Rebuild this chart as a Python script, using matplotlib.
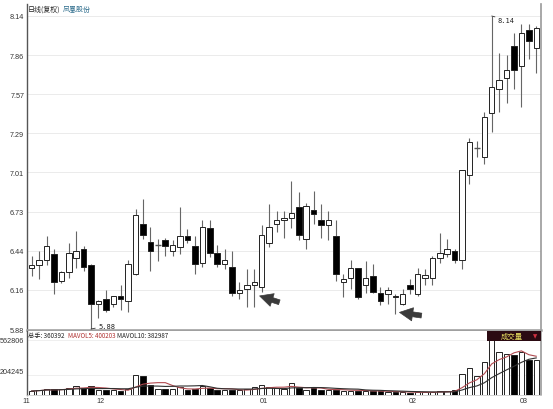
import matplotlib
matplotlib.use('Agg')
import matplotlib.pyplot as plt
import numpy as np
import pandas as pd
from matplotlib.patches import Rectangle

plt.rcParams['font.family'] = ['Liberation Sans', 'DejaVu Sans', 'Noto Sans CJK SC']

# ---------------- data ----------------
opens = [6.32, 6.34, 6.38, 6.42, 6.23, 6.29, 6.39, 6.46, 6.34, 6.06,
         6.10, 6.06, 6.12, 6.08, 6.28, 6.64, 6.51, 6.49, 6.52, 6.44,
         6.47, 6.55, 6.48, 6.36, 6.61, 6.43, 6.35, 6.33, 6.14, 6.17,
         6.20, 6.18, 6.50, 6.64, 6.67, 6.68, 6.76, 6.53, 6.74, 6.67,
         6.63, 6.55, 6.22, 6.25, 6.32, 6.20, 6.26, 6.14, 6.13, 6.12,
         6.06, 6.20, 6.13, 6.25, 6.25, 6.39, 6.42, 6.44, 6.38, 6.99,
         7.19, 7.12, 7.44, 7.61, 7.69, 7.92, 7.78, 8.04, 7.91]
closes = [6.34, 6.38, 6.48, 6.22, 6.29, 6.43, 6.44, 6.33, 6.06, 6.08,
          6.02, 6.12, 6.10, 6.35, 6.70, 6.56, 6.44, 6.49, 6.48, 6.49,
          6.55, 6.52, 6.35, 6.62, 6.43, 6.35, 6.38, 6.14, 6.16, 6.20,
          6.22, 6.56, 6.62, 6.67, 6.68, 6.72, 6.56, 6.77, 6.71, 6.63,
          6.67, 6.28, 6.24, 6.32, 6.11, 6.25, 6.15, 6.08, 6.16, 6.11,
          6.13, 6.17, 6.28, 6.27, 6.39, 6.43, 6.46, 6.38, 7.03, 7.23,
          7.19, 7.41, 7.63, 7.68, 7.75, 7.75, 8.02, 7.96, 8.05]
highs = [6.41, 6.44, 6.55, 6.46, 6.30, 6.50, 6.59, 6.48, 6.35, 6.09,
         6.16, 6.12, 6.20, 6.38, 6.75, 6.82, 6.62, 6.53, 6.54, 6.52,
         6.76, 6.60, 6.55, 6.67, 6.67, 6.49, 6.46, 6.44, 6.22, 6.31,
         6.31, 6.63, 6.78, 6.73, 6.73, 6.95, 6.87, 6.79, 6.88, 6.78,
         6.73, 6.67, 6.28, 6.38, 6.32, 6.37, 6.35, 6.18, 6.18, 6.13,
         6.17, 6.24, 6.32, 6.31, 6.41, 6.57, 6.53, 6.46, 7.03, 7.26,
         7.24, 7.45, 8.14, 7.87, 7.86, 8.02, 8.08, 8.08, 8.07]
lows = [6.26, 6.24, 6.34, 6.13, 6.21, 6.25, 6.32, 6.30, 5.88, 5.96,
        6.00, 6.04, 6.02, 6.00, 6.27, 6.53, 6.30, 6.37, 6.41, 6.41,
        6.42, 6.50, 6.28, 6.33, 6.40, 6.33, 6.31, 6.12, 6.10, 6.04,
        6.04, 6.15, 6.47, 6.58, 6.54, 6.61, 6.52, 6.46, 6.64, 6.54,
        6.52, 6.23, 6.11, 6.17, 6.10, 6.14, 6.14, 6.05, 6.06, 5.99,
        6.05, 6.13, 6.12, 6.20, 6.20, 6.36, 6.40, 6.36, 6.31, 6.93,
        7.12, 7.07, 7.30, 7.45, 7.51, 7.61, 7.48, 7.83, 7.73]
volumes = [41000, 49000, 65000, 59000, 59000, 76000, 93000, 76000, 93000, 49000,
           49000, 49000, 41000, 59000, 210000, 200000, 104000, 65000, 59000, 59000,
           83000, 49000, 59000, 93000, 76000, 49000, 49000, 49000, 49000, 59000,
           83000, 104000, 83000, 72000, 62000, 121000, 69000, 52000, 69000, 52000,
           52000, 55000, 45000, 45000, 45000, 41000, 38000, 38000, 31000, 31000,
           28000, 24000, 28000, 28000, 31000, 38000, 38000, 52000, 218000, 280000,
           200000, 345000, 562806, 440000, 420000, 410000, 445000, 366000, 360392]

price_ticks = [5.88, 6.1625, 6.445, 6.7275, 7.01, 7.2925, 7.575, 7.8575, 8.14]
price_labels = ['5.88', '6.16', '6.44', '6.73', '7.01', '7.29', '7.57', '7.86', '8.14']
vol_ticks = [204245, 562806]
vol_labels = ['204245', '562806']
month_labels = ['11', '12', '01', '02', '03']
month_start = [0, 10, 32, 52, 67]
title_a = '日线(复权)'
title_b = '凤凰股份'
vol_header = ['总手: 360392', 'MAVOL5: 400203', 'MAVOL10: 382987']
vol_name = '成交量'
high_label = '8.14'
low_label = '5.88'

# ---------------- layout ----------------
W, H = 553, 410
fig = plt.figure(figsize=(W / 100, H / 100), dpi=100)
fig.patch.set_facecolor('white')


def rect(l, t, r, b):
    return [l / W, 1 - b / H, (r - l) / W, (b - t) / H]


def fx(px):
    return px / W


def fy(py):
    return 1 - py / H


ax = fig.add_axes(rect(27, 5, 541, 331))
axv = fig.add_axes(rect(27, 332, 541, 396))

n = len(opens)
x = np.arange(n)
xlim = (-0.63, 68.64)
cjk = ['Noto Sans CJK SC', 'Liberation Sans', 'DejaVu Sans']
tick_fs = 5.2
txt_col = '#333333'

# ---------------- candles ----------------
bw = 0.74
for i in range(n):
    o, c, h, l = opens[i], closes[i], highs[i], lows[i]
    ax.vlines(i, l, h, color='#666666', lw=0.8, zorder=2)
    if abs(c - o) < 0.004:
        ax.hlines(o, i - bw / 2, i + bw / 2, color='#555555', lw=1.0, zorder=3)
    else:
        up = c > o
        ax.add_patch(Rectangle((i - bw / 2, min(o, c)), bw, abs(c - o),
                               facecolor='white' if up else 'black',
                               edgecolor='#222222', lw=0.7, zorder=3))

ax.set_xlim(*xlim)
ax.set_ylim(5.8728, 8.2266)
ax.set_yticks(price_ticks)
ax.set_yticklabels(price_labels, fontsize=tick_fs, color=txt_col)
ax.set_xticks([])
ax.tick_params(axis='y', length=0, pad=2)
ax.grid(axis='y', color='#e8e8e8', lw=0.6, zorder=0)
ax.set_axisbelow(True)
ax.spines['top'].set_visible(False)
ax.spines['left'].set_color('#555555')
ax.spines['left'].set_linewidth(1.0)
ax.spines['right'].set_color('#999999')
ax.spines['right'].set_linewidth(1.2)
ax.spines['bottom'].set_color('#a0a0a0')
ax.spines['bottom'].set_linewidth(1.8)

# high / low markers
hi_i = int(np.argmax(highs))
lo_i = int(np.argmin(lows))
ax.annotate(high_label, xy=(hi_i, highs[hi_i]), xytext=(6, -4), textcoords='offset pixels',
            ha='left', va='center', fontsize=5, family='DejaVu Sans Mono', color='#222222',
            arrowprops=dict(arrowstyle='-', lw=0.6, color='#333333', shrinkA=0, shrinkB=0))
ax.annotate(low_label, xy=(lo_i, lows[lo_i]), xytext=(7, 3), textcoords='offset pixels',
            ha='left', va='center', fontsize=5, family='DejaVu Sans Mono', color='#222222',
            arrowprops=dict(arrowstyle='-', lw=0.6, color='#333333', shrinkA=0, shrinkB=0))

# pointer arrows
arrow_style = dict(arrowstyle='simple,head_length=0.95,head_width=0.95,tail_width=0.35',
                   fc='#3a3a3a', ec='#3a3a3a', lw=0.5)
ax.annotate('', xy=(30.36, 6.125), xytext=(33.73, 6.067), arrowprops=arrow_style, zorder=5)
ax.annotate('', xy=(49.2, 6.003), xytext=(52.9, 5.974), arrowprops=arrow_style, zorder=5)

# title
fig.text(fx(28), fy(10), title_a, fontsize=5, family=cjk, color='#222222', va='center', ha='left')
fig.text(fx(63), fy(10), title_b, fontsize=5, family=cjk, color='#2a6a8a', va='center', ha='left')

# ---------------- volume ----------------
vcolors = ['white' if closes[i] >= opens[i] else 'black' for i in range(n)]
axv.bar(x, volumes, width=bw, color=vcolors, edgecolor='#222222', lw=0.7, zorder=3)
vs = pd.Series(volumes, dtype=float)
ma5 = vs.rolling(5, min_periods=1).mean()
ma10 = vs.rolling(10, min_periods=1).mean()
axv.plot(x, ma5, color='#b04a50', lw=0.8, zorder=4)
axv.plot(x, ma10, color='#303030', lw=0.8, zorder=4)
axv.set_xlim(*xlim)
axv.set_ylim(0, 660900)
axv.set_yticks(vol_ticks)
axv.set_yticklabels(vol_labels, fontsize=tick_fs, color=txt_col)
vtl = axv.get_yticklabels()
vtl[0].set_va('bottom')
vtl[1].set_va('center')
axv.tick_params(axis='y', length=0, pad=2)
axv.set_xticks([])
axv.grid(axis='y', color='#ececec', lw=0.6, zorder=0)
axv.set_axisbelow(True)
axv.spines['top'].set_visible(False)
axv.spines['left'].set_color('#555555')
axv.spines['left'].set_linewidth(1.0)
axv.spines['right'].set_color('#999999')
axv.spines['right'].set_linewidth(1.2)
axv.spines['bottom'].set_color('#cccccc')
axv.spines['bottom'].set_linewidth(0.6)

# month labels
for lab, ms in zip(month_labels, month_start):
    axv.text(ms - 0.7, -0.09, lab, transform=axv.get_xaxis_transform(), ha='center', va='center',
             fontsize=tick_fs, color=txt_col, clip_on=False)

# volume header
hdr_x = [28, 68, 117]
hdr_c = ['#222222', '#b03030', '#222222']
for t, px, c in zip(vol_header, hdr_x, hdr_c):
    fig.text(fx(px), fy(336.5), t, fontsize=4.5, family=cjk, color=c, va='center', ha='left')

# volume name box
fig.patches.append(Rectangle((fx(487), fy(342)), fx(54), (10 / H), transform=fig.transFigure,
                             facecolor='#2b0a12', edgecolor='none', zorder=10))
fig.text(fx(512), fy(337), vol_name, fontsize=5.3, family=cjk, color='#e8e060',
         ha='center', va='center', zorder=11)
fig.text(fx(535), fy(337), '▼', fontsize=4, family=['DejaVu Sans'], color='#d03040',
         ha='center', va='center', zorder=11)

fig.savefig('out.png', dpi=100)
